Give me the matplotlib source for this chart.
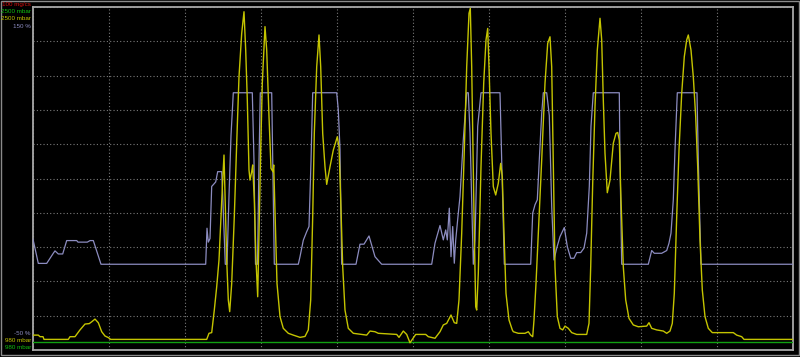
import numpy as np
import matplotlib
matplotlib.use("Agg")
import matplotlib.pyplot as plt
from matplotlib.patches import Rectangle

# time axis in samples (0..760)
blue_t = [0, 5.3, 13.7, 20.3, 22, 25.3, 29.7, 33.7, 43.7, 45, 54.3, 57, 60.3, 68,
          172.7, 174, 175.3, 177, 178.7, 180.3, 182.7, 184.7, 188.7, 189.7, 192.3,
          194, 196, 198, 200.3, 219.3, 221, 222.5, 224.5, 226, 227.3, 238.7, 241.3,
          265.3, 267, 270.3, 273.7, 276, 278, 279.7, 303.7, 305.3, 307, 308.7,
          323, 327, 331, 336, 342, 348.7,
          398.7, 402, 407, 410.3, 412.7, 414.3, 416.3, 418, 419.7, 421.3, 422.7,
          425.3, 427, 430.3, 433.7, 435.3, 437, 440.3, 442, 444.7, 448, 467, 471.3,
          497.7, 499.7, 502, 504.3, 506.3, 508.7, 510.3, 513.7, 516.3, 518.7, 521,
          523.7, 527, 531.3, 534.3, 537.7, 541, 543.7, 547.7, 551, 553.7, 556.3,
          558, 560.3, 586.3, 587, 588.7,
          615.3, 618.7, 621.3, 628.7, 633.7, 636, 638, 640.3, 642, 644.3, 664,
          665.3, 668, 760]
blue_pct = [14.6, 0.5, 0.5, 6.4, 7.8, 6, 6, 13.8, 13.8, 12.9, 12.9, 13.8, 13.8, 0,
            0, 21, 12.9, 15, 45.4, 46.4, 48, 54, 54, 40, 0,
            0, 40, 75, 100, 100, 60, 0, 0, 60, 100, 100, 0,
            0, 4.4, 14, 19, 22, 60, 100, 100, 90, 67, 0,
            0, 11.7, 11.7, 16.5, 4.4, 0,
            0, 12.3, 22.6, 14.2, 20, 14.2, 32.7, 4.4, 22, 0.6, 14,
            29.8, 39.5, 72.7, 100, 100, 76.6, 0, 14, 80.5, 100, 100, 0,
            0, 29.8, 34.7, 37.6, 61, 87.8, 100, 100, 86.7, 33.7, 2.5,
            9.4, 16.1, 21.4, 10.3, 3.5, 3.5, 6.8, 6.8, 9.4, 18.1, 45.4,
            80.5, 100, 100, 60, 0,
            0, 8, 6.4, 6.4, 8, 12.3, 18.1, 37.6, 66.8, 100, 100,
            60, 0, 0]

yel_t = [0, 5.3, 7, 10, 11, 35.3, 37, 42, 47, 52, 56.3, 58.7, 62, 65.3, 68.7, 72,
         75.3, 77.7, 173.7, 176, 178.7, 181.3, 183.7, 186, 188, 189.7, 191, 192,
         193.7, 195.3, 196.7, 198.7, 201.3, 203.7, 206, 208.7, 211, 212.7, 214.3,
         216, 217, 218.7, 219.7, 221.3, 223, 224.7, 226, 227.7, 229.3, 232, 233.7,
         236, 238, 240, 240.7, 242, 244, 247, 250.3, 255.3, 260.3, 267, 272, 275.3,
         277.7, 279.7, 281.3, 283.7, 286, 287.7, 289.7, 292, 293.7, 297, 300.3,
         304.3, 306, 307.7, 309.7, 312, 315.3, 320.3, 333.7, 337, 342, 345.3,
         363.7, 366, 370.3, 373.7, 377, 379.3, 382.7, 392.7, 395.3, 402, 407,
         410.3, 413.7, 418, 421.3, 423.7, 426, 428.7, 431.3, 433.7, 436, 437.3,
         438.7, 440.3, 441.3, 442.7, 443.7, 445.3, 448, 450.7, 453, 454.7, 456,
         458, 460.3, 462.7, 465.3, 467.7, 469.3, 471, 473, 476, 479.3, 480.3,
         485.3, 492, 495.3, 497.7, 499.7, 501, 503, 505.3, 508.7, 512, 514.7,
         517, 518.7, 520.3, 522, 524.3, 527, 529.7, 532, 535.3, 538.7, 543.7,
         553.7, 556, 557.7, 559.7, 562, 564.3, 567, 568.7, 570.3, 572, 574.3,
         577, 580.3, 583, 584.7, 586.3, 588, 590.3, 592.7, 596, 600.3, 605.3,
         613.7, 616, 618.7, 623.7, 630.3, 633.7, 637, 639.3, 641.3, 643.7, 646,
         648.7, 651.3, 653.7, 655.3, 658, 660.3, 662.7, 664.7, 667, 669.3, 672,
         675.3, 679.3, 700.3, 703.7, 708.7, 711, 760]
yel_mbar = [1046, 1046, 1039, 1039, 1027, 1027, 1039, 1039, 1069, 1095, 1097, 1105,
            1117, 1101, 1061, 1042, 1035, 1027, 1027, 1054, 1057, 1157, 1260, 1379,
            1571, 1733, 1844, 1674, 1379, 1202, 1150, 1275, 1571, 1896, 2191, 2383,
            2479, 2309, 2088, 1778, 1733, 1770, 1800, 1645, 1379, 1216, 1497, 1866,
            2162, 2413, 2309, 2014, 1785, 1770, 1800, 1586, 1275, 1128, 1076, 1054,
            1046, 1036, 1040, 1069, 1202, 1571, 1940, 2235, 2376, 2235, 1940, 1792,
            1714, 1792, 1866, 1925, 1881, 1645, 1349, 1157, 1076, 1054, 1046, 1064,
            1061, 1054, 1049, 1036, 1064, 1049, 1012, 1027, 1049, 1049, 1039, 1032,
            1061, 1091, 1098, 1135, 1101, 1098, 1202, 1497, 1866, 2235, 2472, 2494,
            2235, 1792, 1497, 1172, 1157, 1320, 1792, 2162, 2354, 2405, 2235, 1940,
            1704, 1667, 1719, 1807, 1748, 1497, 1231, 1113, 1069, 1061, 1054, 1054,
            1061, 1046, 1039, 1113, 1275, 1497, 1822, 2162, 2339, 2368, 2235, 1792,
            1349, 1128, 1076, 1069, 1086, 1076, 1057, 1049, 1049, 1098, 1349, 1719,
            2058, 2309, 2450, 2354, 2088, 1852, 1677, 1733, 1896, 1940, 1944, 1910,
            1645, 1349, 1202, 1120, 1091, 1083, 1086, 1101, 1076, 1069, 1064, 1054,
            1064, 1098, 1231, 1571, 1866, 2117, 2280, 2354, 2376, 2309, 2191, 2014,
            1792, 1467, 1246, 1128, 1076, 1057, 1057, 1046, 1039, 1027, 1027]

green_t = [0, 760]
green_mbar = [1017, 1017]

top_labels = ["100 mg/cs", "2500 mbar", "2500 mbar", "150 %"]
bottom_labels = ["-50 %", "980 mbar", "980 mbar"]

RED = "#d81010"
GREEN = "#10c010"
YELLOW = "#c4c400"
BLUE = "#8c8cc0"
GRID = "#7a7a7a"
FRAME = "#a8a8a8"

fig = plt.figure(figsize=(8, 3.57), dpi=100, facecolor="black")
ax = fig.add_axes([33 / 800, 7 / 357, 760 / 800, 343 / 357])
ax.set_facecolor("black")
ax.set_xlim(0, 760)
ax.set_ylim(-50, 150)

ax.set_xticks(np.linspace(0, 760, 11))
ax.set_yticks(np.linspace(-50, 150, 11))
ax.grid(True, color=GRID, linestyle=(0, (1, 2)), linewidth=0.8)
ax.tick_params(left=False, bottom=False, labelleft=False, labelbottom=False)
for s in ax.spines.values():
    s.set_color(FRAME)
    s.set_linewidth(1.3)

ax2 = ax.twinx()
ax2.set_ylim(980, 2500)
ax2.tick_params(right=False, labelright=False)
for s in ax2.spines.values():
    s.set_visible(False)

ax2.plot(green_t, green_mbar, color="#10a010", lw=1.0, zorder=2)
ax.plot(blue_t, blue_pct, color=BLUE, lw=0.9, zorder=3)
ax2.plot(yel_t, yel_mbar, color=YELLOW, lw=1.0, zorder=4)

# scale labels on the left
tcol = [RED, GREEN, YELLOW, BLUE]
for i, (txt, c) in enumerate(zip(top_labels, tcol)):
    fig.text(31 / 800, 1 - (4.5 + 7.2 * i) / 357, txt, color=c, fontsize=4.5,
             family="Liberation Sans", ha="right", va="center")
bcol = [BLUE, YELLOW, GREEN]
for i, (txt, c) in enumerate(zip(bottom_labels, bcol)):
    fig.text(31 / 800, 1 - (333.5 + 7.2 * i) / 357, txt, color=c, fontsize=4.5,
             family="Liberation Sans", ha="right", va="center")

# outer window frame
fig.add_artist(Rectangle((0.5 / 800, 2.5 / 357), 798.5 / 800, 353.5 / 357,
                         transform=fig.transFigure, fill=False,
                         edgecolor="#8a8a8a", lw=1.0))

fig.savefig("out.png", dpi=100, facecolor="black")
